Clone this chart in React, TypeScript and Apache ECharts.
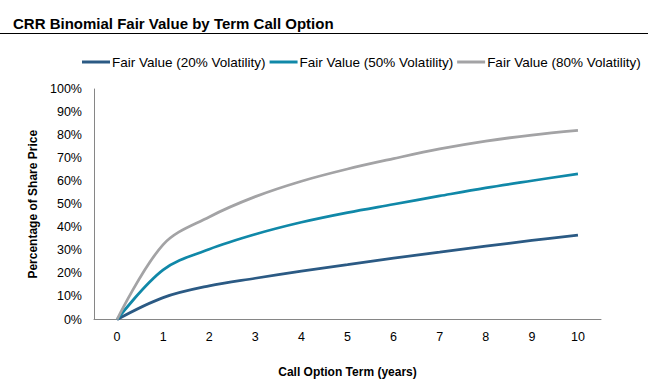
import React, { useEffect, useRef } from "react";
import * as echarts from "echarts";

const terms = ["0", "1", "2", "3", "4", "5", "6", "7", "8", "9", "10"];
const vol20 = [0, 9.5, 14.6, 17.9, 21.0, 23.8, 26.6, 29.2, 31.8, 34.3, 36.6];
const vol50 = [0, 21.5, 30.5, 37.0, 42.2, 46.4, 50.0, 53.6, 57.1, 60.2, 63.2];
const vol80 = [0, 32.5, 44.5, 53.3, 60.0, 65.3, 69.8, 74.0, 77.4, 80.0, 82.0];
const seriesNames = [
  "Fair Value (20% Volatility)",
  "Fair Value (50% Volatility)",
  "Fair Value (80% Volatility)",
];
const colors = ["#2B5A84", "#1088A8", "#A3A3A5"];

export default function App() {
  const ref = useRef<HTMLDivElement>(null);
  useEffect(() => {
    document.body.style.margin = "0";
    if (!ref.current) return;
    const chart = echarts.init(ref.current, undefined, { renderer: "svg" });
    const font = "Arial, 'Liberation Sans', sans-serif";
    const data = [vol20, vol50, vol80];
    chart.setOption({
      animation: false,
      textStyle: { fontFamily: font },
      title: {
        text: "CRR Binomial Fair Value by Term Call Option",
        left: 8,
        top: 11,
        textStyle: { fontSize: 15, fontWeight: "bold", color: "#000", fontFamily: font },
      },
      graphic: [
        {
          type: "line",
          shape: { x1: 0, y1: 33.5, x2: 648, y2: 33.5 },
          style: { stroke: "#000", lineWidth: 1 },
        },
      ],
      legend: {
        left: 82,
        top: 55,
        width: 566,
        padding: 0,
        itemWidth: 28,
        itemHeight: 3,
        itemGap: 4,
        icon: "rect",
        textStyle: { fontSize: 13.5, color: "#000", fontFamily: font, padding: [0, 0, 0, -3] },
        data: seriesNames,
      },
      grid: { left: 94, right: 47, top: 89, bottom: 69.5 },
      xAxis: {
        type: "category",
        data: terms,
        boundaryGap: true,
        name: "Call Option Term (years)",
        nameLocation: "middle",
        nameGap: 46,
        nameTextStyle: { fontSize: 12, fontWeight: "bold", color: "#000", fontFamily: font },
        axisLine: { lineStyle: { color: "#868686", width: 1 } },
        axisTick: { show: false },
        axisLabel: { fontSize: 12.5, color: "#000", margin: 11, fontFamily: font },
        splitLine: { show: false },
      },
      yAxis: {
        type: "value",
        min: 0,
        max: 100,
        interval: 10,
        name: "Percentage of Share Price",
        nameLocation: "middle",
        nameGap: 47,
        nameRotate: 90,
        nameTextStyle: { fontSize: 12, fontWeight: "bold", color: "#000", fontFamily: font },
        axisLine: { show: true, lineStyle: { color: "#868686", width: 1 } },
        axisTick: { show: false },
        axisLabel: { fontSize: 12.5, color: "#000", margin: 12, formatter: "{value}%", fontFamily: font },
        splitLine: { show: false },
      },
      series: data.map((d, i) => ({
        name: seriesNames[i],
        type: "line",
        data: d,
        smooth: 0.35,
        symbol: "none",
        lineStyle: { color: colors[i], width: 2.75 },
        itemStyle: { color: colors[i] },
      })),
    });
    return () => chart.dispose();
  }, []);
  return <div ref={ref} style={{ width: 648, height: 389 }} />;
}
